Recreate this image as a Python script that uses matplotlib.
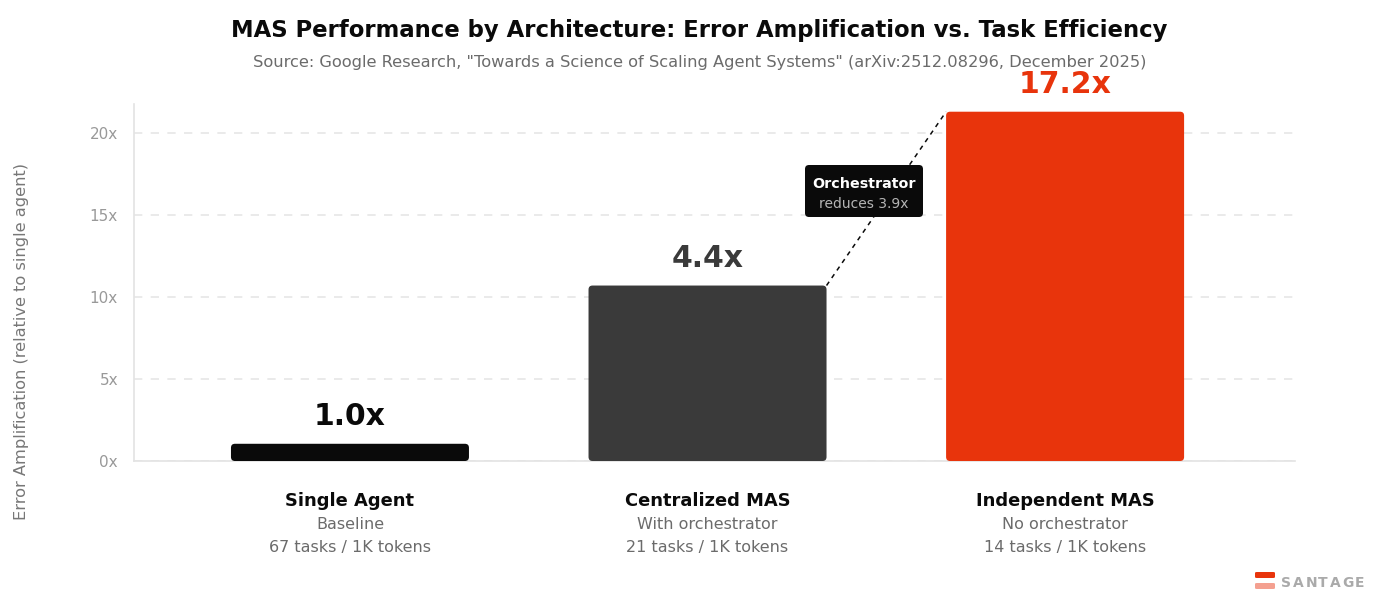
import matplotlib
matplotlib.use("Agg")
import matplotlib.pyplot as plt
from matplotlib.patches import FancyBboxPatch
from matplotlib.transforms import blended_transform_factory, offset_copy

# ---- data ----
categories = ["Single Agent", "Centralized MAS", "Independent MAS"]
subtitles = ["Baseline", "With orchestrator", "No orchestrator"]
efficiency = ["67 tasks / 1K tokens", "21 tasks / 1K tokens", "14 tasks / 1K tokens"]
bar_heights = [1.05, 10.7, 21.3]
value_labels = ["1.0x", "4.4x", "17.2x"]
bar_colors = ["#0a0a0a", "#3a3a3a", "#e8340c"]
label_colors = ["#0a0a0a", "#3a3a3a", "#e8340c"]
yticks = [0, 5, 10, 15, 20]
ytick_labels = ["0x", "5x", "10x", "15x", "20x"]

plt.rcParams["font.family"] = ["DejaVu Sans"]

fig = plt.figure(figsize=(14, 5.96), dpi=100)
fig.patch.set_facecolor("white")
ax = fig.add_axes([134/1400, 1-461/596, (1295-134)/1400, (461-104)/596])

xlim = (-0.604, 2.643)
ylim = (0, 21.77)
ax.set_xlim(*xlim)
ax.set_ylim(*ylim)

# pixel scale for rounded corners
ax_w_px = 1295-134
ax_h_px = 461-104
x_per_px = (xlim[1]-xlim[0]) / ax_w_px
y_per_px = (ylim[1]-ylim[0]) / ax_h_px
width = 238 * x_per_px
r = 4 * x_per_px
aspect = y_per_px / x_per_px

for i, (h, c) in enumerate(zip(bar_heights, bar_colors)):
    p = FancyBboxPatch((i - width/2, 0), width, h,
                       boxstyle=f"round,pad=0,rounding_size={r}",
                       mutation_aspect=aspect, facecolor=c, edgecolor="none",
                       zorder=3)
    ax.add_patch(p)
    ax.annotate(value_labels[i], xy=(i, h), xytext=(0, 13.6),
                textcoords="offset points", ha="center", va="baseline",
                fontsize=21.5, fontweight="bold", color=label_colors[i], zorder=5)

# grid & spines
ax.set_yticks(yticks)
ax.set_yticklabels(ytick_labels)
ax.tick_params(axis="y", length=0, pad=11.5, labelsize=11, labelcolor="#999999")
ax.set_xticks([])
ax.yaxis.grid(True, linestyle=(0, (5, 5)), color="#e6e6e6", linewidth=1.2, zorder=0)
ax.set_axisbelow(True)
for s in ["top", "right"]:
    ax.spines[s].set_visible(False)
ax.spines["left"].set_color("#e3e3e3")
ax.spines["bottom"].set_color("#e3e3e3")
ax.spines["left"].set_linewidth(1.2)
ax.spines["bottom"].set_linewidth(1.2)

# category labels
trans = blended_transform_factory(ax.transData, ax.transAxes)
for i in range(len(categories)):
    t1 = offset_copy(trans, fig=fig, x=0, y=-28.5, units="points")
    t2 = offset_copy(trans, fig=fig, x=0, y=-46, units="points")
    t3 = offset_copy(trans, fig=fig, x=0, y=-62.6, units="points")
    ax.text(i, 0, categories[i], transform=t1, ha="center", va="center",
            fontsize=12.9, fontweight="bold", color="#0a0a0a")
    ax.text(i, 0, subtitles[i], transform=t2, ha="center", va="center",
            fontsize=11.5, color="#6b6b6b")
    ax.text(i, 0, efficiency[i], transform=t3, ha="center", va="center",
            fontsize=11.5, color="#6b6b6b")

# annotation line between bars
x0 = 1 + width/2
x1 = 2 - width/2
ax.plot([x0, x1], [bar_heights[1], bar_heights[2]], linestyle=(0, (3, 3)),
        color="#0a0a0a", linewidth=1.1, zorder=4)
# callout box
bx = (864 - 134) * x_per_px + xlim[0]
by = (461 - 191) * y_per_px
bw = 118 * x_per_px
bh = 52 * y_per_px
box = FancyBboxPatch((bx - bw/2, by - bh/2), bw, bh,
                     boxstyle=f"round,pad=0,rounding_size={r}",
                     mutation_aspect=aspect, facecolor="#0a0a0a", edgecolor="none",
                     zorder=6)
ax.add_patch(box)
ax.text(bx, (461 - 183.5) * y_per_px, "Orchestrator", ha="center", va="center",
        fontsize=10.3, fontweight="bold", color="white", zorder=7)
ax.text(bx, (461 - 204.5) * y_per_px, "reduces 3.9x", ha="center", va="center",
        fontsize=10, color="#b5b5b5", zorder=7)

# titles
fig.text(699/1400, 1-31/596, "MAS Performance by Architecture: Error Amplification vs. Task Efficiency",
         ha="center", va="center", fontsize=16.4, fontweight="bold", color="#0a0a0a")
fig.text(700/1400, 1-63/596,
         'Source: Google Research, "Towards a Science of Scaling Agent Systems" (arXiv:2512.08296, December 2025)',
         ha="center", va="center", fontsize=11.7, color="#6b6b6b")
fig.text(22/1400, 1-342/596, "Error Amplification (relative to single agent)",
         rotation=90, ha="center", va="center", fontsize=11.7, color="#777777")

# logo
logo1 = FancyBboxPatch((1255/1400, 1-578/596), 20/1400, 6/596,
                       boxstyle="round,pad=0,rounding_size=0.0015",
                       transform=fig.transFigure, facecolor="#e8340c", edgecolor="none")
logo2 = FancyBboxPatch((1255/1400, 1-589/596), 20/1400, 6/596,
                       boxstyle="round,pad=0,rounding_size=0.0015",
                       transform=fig.transFigure, facecolor="#f4a090", edgecolor="none")
fig.patches.extend([logo1, logo2])
letters = "SANTAGE"
xpos = 1281
for ch in letters:
    fig.text(xpos/1400, 1-583/596, ch, ha="left", va="center", fontsize=10,
             fontweight="bold", color="#aaaaaa")
    xpos += 12.3

fig.savefig("out.png", dpi=100, facecolor="white")
